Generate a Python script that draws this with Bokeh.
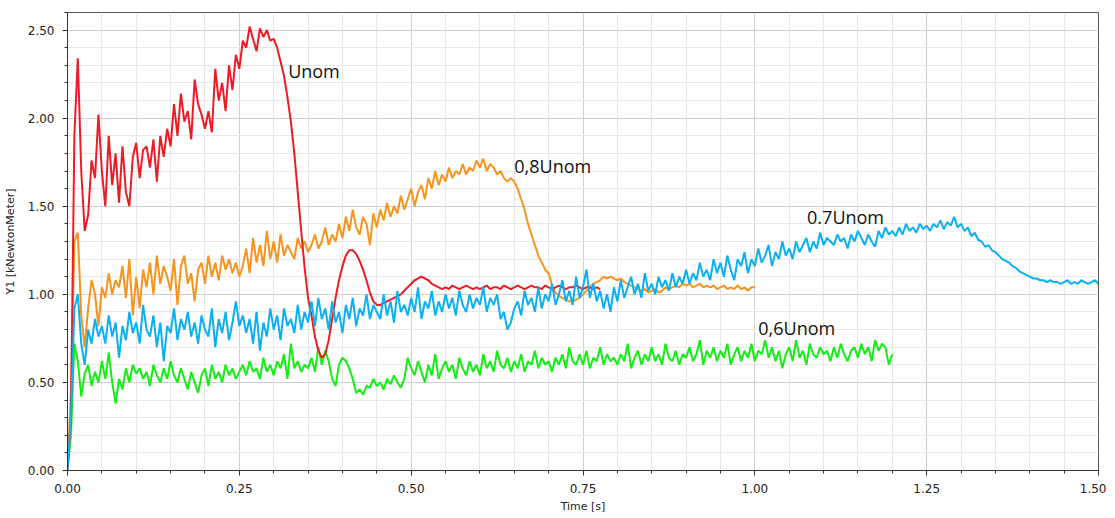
from bokeh.plotting import figure
from bokeh.models import (ColumnDataSource, SingleIntervalTicker, NumeralTickFormatter,
                          Range1d, Label)
from bokeh.embed import file_html
from bokeh.resources import INLINE
import numpy as np

T_STEP = 0.005  # sampling interval of the recorded curves [s]

unom = [
    0.00, 0.30, 1.90, 2.34, 1.70, 1.36, 1.45, 1.76, 1.66, 2.02,
    1.70, 1.50, 1.90, 1.62, 1.80, 1.52, 1.84, 1.58, 1.50, 1.78,
    1.86, 1.66, 1.82, 1.84, 1.72, 1.88, 1.64, 1.90, 1.78, 1.94,
    1.84, 2.08, 1.90, 2.14, 1.98, 2.04, 1.88, 2.22, 2.08, 2.02,
    1.94, 2.04, 1.92, 2.28, 2.10, 2.20, 2.04, 2.30, 2.16, 2.36,
    2.28, 2.44, 2.40, 2.52, 2.45, 2.38, 2.51, 2.46, 2.50, 2.44,
    2.45, 2.40, 2.32, 2.24, 2.12, 1.98, 1.80, 1.58, 1.36, 1.15,
    0.98, 0.88, 0.76, 0.68, 0.64, 0.66, 0.74, 0.86, 0.98, 1.08,
    1.16, 1.22, 1.25, 1.25, 1.23, 1.19, 1.14, 1.08, 1.01, 0.96,
    0.94, 0.94, 0.95, 0.96, 0.97, 0.98, 0.99, 1.00, 1.02, 1.04,
    1.06, 1.08, 1.09, 1.10, 1.09, 1.08, 1.06, 1.05, 1.04, 1.03,
    1.04, 1.03, 1.05, 1.04, 1.03, 1.04, 1.05, 1.04, 1.03, 1.04,
    1.03, 1.04, 1.05, 1.03, 1.04, 1.04, 1.03, 1.05, 1.04, 1.03,
    1.04, 1.05, 1.04, 1.03, 1.04, 1.05, 1.04, 1.04, 1.03, 1.05,
    1.04, 1.03, 1.04, 1.05, 1.04, 1.03, 1.04, 1.04, 1.05, 1.04,
    1.03, 1.04, 1.04, 1.03, 1.04, 1.03,
]

u08 = [
    0.00, 0.45, 1.30, 1.35, 0.88, 0.70, 0.92, 1.08, 1.00, 0.82,
    1.04, 0.98, 1.12, 1.00, 1.08, 1.04, 1.16, 0.98, 1.20, 0.88,
    1.10, 0.92, 1.14, 1.04, 1.18, 1.00, 1.22, 1.06, 1.16, 1.10,
    1.02, 1.20, 0.94, 1.16, 1.22, 1.06, 1.12, 0.96, 1.14, 1.18,
    1.06, 1.22, 1.10, 1.18, 1.08, 1.22, 1.14, 1.20, 1.12, 1.18,
    1.10, 1.16, 1.26, 1.12, 1.32, 1.18, 1.28, 1.16, 1.36, 1.20,
    1.30, 1.18, 1.34, 1.22, 1.28, 1.24, 1.20, 1.32, 1.26, 1.30,
    1.24, 1.28, 1.34, 1.26, 1.30, 1.38, 1.28, 1.34, 1.30, 1.40,
    1.32, 1.44, 1.36, 1.48, 1.38, 1.34, 1.44, 1.40, 1.28, 1.46,
    1.38, 1.48, 1.42, 1.52, 1.44, 1.50, 1.46, 1.56, 1.48, 1.54,
    1.60, 1.50, 1.58, 1.62, 1.54, 1.66, 1.60, 1.70, 1.62, 1.68,
    1.64, 1.72, 1.66, 1.70, 1.68, 1.74, 1.68, 1.72, 1.70, 1.76,
    1.72, 1.77, 1.70, 1.74, 1.72, 1.68, 1.70, 1.66, 1.64, 1.66,
    1.64, 1.60, 1.54, 1.48, 1.40, 1.34, 1.28, 1.22, 1.18, 1.14,
    1.12, 1.05, 1.01, 0.99, 0.98, 0.97, 0.96, 0.96, 0.97, 0.98,
    1.00, 1.02, 1.04, 1.06, 1.07, 1.08, 1.10, 1.09, 1.10, 1.09,
    1.08, 1.09, 1.07, 1.06, 1.05, 1.04, 1.03, 1.02, 1.03, 1.01,
    1.02, 1.03, 1.01, 1.02, 1.04, 1.03, 1.04, 1.05, 1.04, 1.06,
    1.05, 1.06, 1.04, 1.05, 1.06, 1.04, 1.05, 1.04, 1.05, 1.03,
    1.04, 1.05, 1.03, 1.04, 1.03, 1.05, 1.03, 1.04, 1.02, 1.04,
    1.04,
]

u07 = [
    0.00, 0.30, 0.92, 1.00, 0.72, 0.60, 0.80, 0.72, 0.86, 0.76,
    0.82, 0.72, 0.88, 0.76, 0.84, 0.64, 0.82, 0.74, 0.90, 0.78,
    0.84, 0.72, 0.94, 0.80, 0.76, 0.88, 0.70, 0.84, 0.62, 0.82,
    0.78, 0.92, 0.74, 0.86, 0.80, 0.90, 0.76, 0.84, 0.72, 0.88,
    0.80, 0.76, 0.92, 0.70, 0.86, 0.78, 0.90, 0.74, 0.84, 0.96,
    0.82, 0.88, 0.78, 0.86, 0.72, 0.90, 0.68, 0.84, 0.76, 0.92,
    0.80, 0.88, 0.74, 0.92, 0.82, 0.86, 0.78, 0.94, 0.80, 0.90,
    0.84, 0.96, 0.82, 0.98, 0.86, 0.92, 0.80, 0.96, 0.84, 0.90,
    0.78, 0.94, 0.86, 0.98, 0.82, 0.92, 0.88, 1.00, 0.86, 0.94,
    0.90, 0.86, 1.00, 0.88, 0.96, 0.84, 1.02, 0.90, 0.94, 0.88,
    0.98, 0.90, 1.04, 0.86, 0.96, 0.92, 1.02, 0.88, 0.96, 0.90,
    1.00, 0.92, 0.98, 0.88, 1.02, 0.94, 0.90, 1.00, 0.92, 0.98,
    0.94, 1.04, 0.90, 0.98, 0.94, 1.00, 0.86, 0.90, 0.80, 0.84,
    0.92, 0.96, 0.88, 1.02, 0.94, 0.98, 0.90, 1.04, 0.92, 1.00,
    0.96, 1.06, 0.94, 1.00, 1.08, 0.96, 1.02, 0.94, 1.10, 0.98,
    1.04, 1.14, 0.98, 1.06, 0.96, 1.02, 0.92, 1.00, 0.90, 1.04,
    0.96, 1.08, 0.98, 1.04, 1.10, 1.00, 1.06, 0.98, 1.12, 1.02,
    1.06, 1.00, 1.10, 1.04, 1.08, 1.02, 1.12, 1.04, 1.10, 1.06,
    1.14, 1.06, 1.12, 1.08, 1.18, 1.10, 1.14, 1.08, 1.20, 1.12,
    1.18, 1.10, 1.22, 1.14, 1.08, 1.20, 1.16, 1.24, 1.12, 1.20,
    1.16, 1.26, 1.18, 1.22, 1.28, 1.16, 1.24, 1.20, 1.30, 1.22,
    1.26, 1.20, 1.30, 1.24, 1.28, 1.32, 1.24, 1.30, 1.26, 1.35,
    1.28, 1.32, 1.30, 1.28, 1.34, 1.30, 1.32, 1.26, 1.34, 1.30,
    1.36, 1.32, 1.28, 1.34, 1.30, 1.27, 1.36, 1.32, 1.38, 1.34,
    1.36, 1.33, 1.38, 1.34, 1.40, 1.36, 1.38, 1.35, 1.40, 1.37,
    1.39, 1.36, 1.40, 1.38, 1.42, 1.37, 1.41, 1.39, 1.44, 1.38,
    1.40, 1.36, 1.38, 1.33, 1.35, 1.31, 1.30, 1.27, 1.28, 1.25,
    1.24, 1.22, 1.20, 1.19, 1.18, 1.16, 1.15, 1.13, 1.12, 1.11,
    1.10, 1.09, 1.09, 1.08, 1.08, 1.07, 1.08, 1.07, 1.07, 1.06,
    1.07, 1.08, 1.06, 1.07, 1.06, 1.08, 1.07, 1.06, 1.07, 1.08,
    1.06,
]

u06 = [
    0.00, 0.20, 0.72, 0.62, 0.42, 0.55, 0.60, 0.48, 0.56, 0.50,
    0.62, 0.52, 0.67, 0.50, 0.38, 0.52, 0.46, 0.58, 0.50, 0.60,
    0.55, 0.58, 0.52, 0.56, 0.48, 0.60, 0.54, 0.50, 0.58, 0.52,
    0.62, 0.54, 0.50, 0.58, 0.52, 0.46, 0.56, 0.50, 0.44, 0.54,
    0.58, 0.48, 0.60, 0.52, 0.56, 0.50, 0.60, 0.54, 0.58, 0.52,
    0.56, 0.60, 0.54, 0.62, 0.56, 0.58, 0.52, 0.64, 0.56, 0.60,
    0.54, 0.62, 0.58, 0.66, 0.52, 0.72, 0.58, 0.62, 0.56, 0.60,
    0.58, 0.64, 0.56, 0.70, 0.60, 0.68, 0.62, 0.52, 0.48, 0.60,
    0.64, 0.62, 0.58, 0.52, 0.44, 0.46, 0.43, 0.48, 0.47, 0.52,
    0.48, 0.50, 0.46, 0.52, 0.49, 0.54, 0.50, 0.47, 0.52, 0.64,
    0.58, 0.54, 0.62, 0.56, 0.50, 0.60, 0.54, 0.66, 0.52, 0.58,
    0.62, 0.56, 0.60, 0.52, 0.64, 0.58, 0.54, 0.62, 0.56, 0.60,
    0.54, 0.66, 0.58, 0.62, 0.56, 0.68, 0.60, 0.58, 0.64, 0.56,
    0.62, 0.58, 0.66, 0.56, 0.62, 0.60, 0.68, 0.58, 0.64, 0.60,
    0.62, 0.56, 0.64, 0.60, 0.66, 0.58, 0.70, 0.62, 0.60, 0.66,
    0.60, 0.68, 0.58, 0.64, 0.62, 0.70, 0.60, 0.66, 0.62, 0.64,
    0.60, 0.66, 0.62, 0.72, 0.58, 0.64, 0.68, 0.60, 0.66, 0.62,
    0.70, 0.62, 0.66, 0.60, 0.72, 0.64, 0.62, 0.68, 0.60, 0.66,
    0.64, 0.70, 0.62, 0.66, 0.74, 0.60, 0.68, 0.64, 0.70, 0.62,
    0.68, 0.64, 0.72, 0.60, 0.66, 0.70, 0.62, 0.68, 0.64, 0.72,
    0.62, 0.68, 0.66, 0.74, 0.64, 0.70, 0.62, 0.68, 0.58, 0.66,
    0.70, 0.62, 0.74, 0.64, 0.68, 0.60, 0.72, 0.66, 0.64, 0.70,
    0.66, 0.68, 0.62, 0.70, 0.64, 0.72, 0.66, 0.62, 0.68, 0.70,
    0.64, 0.72, 0.66, 0.70, 0.62, 0.74, 0.68, 0.72, 0.70, 0.60,
    0.66,
]

series_names = ["0,6Unom", "0,8Unom", "Unom", "0.7Unom"]
series_values = [u06, u08, unom, u07]
series_colors = ["#14EE14", "#F7941D", "#ED1C24", "#0AB0F2"]

label_texts = ["Unom", "0,8Unom", "0.7Unom", "0,6Unom"]
label_x = [0.321, 0.650, 1.076, 1.005]
label_y = [2.27, 1.73, 1.44, 0.81]

p = figure(width=1106, height=510, output_backend="svg", toolbar_location=None,
           x_range=Range1d(0, 1.5), y_range=Range1d(0, 2.6),
           frame_width=1031, frame_height=458,
           min_border_left=67, min_border_top=12, min_border_right=8, min_border_bottom=10)
p.background_fill_color = "white"
p.border_fill_color = "white"
p.outline_line_color = "#555555"
p.outline_line_width = 1

for name, vals, col in zip(series_names, series_values, series_colors):
    t = np.arange(len(vals)) * T_STEP
    src = ColumnDataSource(dict(t=t, v=vals))
    p.line("t", "v", source=src, line_color=col, line_width=2)

for txt, x, y in zip(label_texts, label_x, label_y):
    p.add_layout(Label(x=x, y=y, text=txt, text_font="Open Sans", text_font_size="18px",
                       text_color="#111111", text_baseline="middle", text_align="left"))

xt = SingleIntervalTicker(interval=0.25, num_minor_ticks=5)
yt = SingleIntervalTicker(interval=0.5, num_minor_ticks=5)
p.xaxis.ticker = xt
p.yaxis.ticker = yt
p.xgrid.ticker = xt
p.ygrid.ticker = yt
for ax in (p.xaxis, p.yaxis):
    ax.formatter = NumeralTickFormatter(format="0.00")
    ax.axis_line_color = "#333333"
    ax.major_tick_line_color = "#333333"
    ax.minor_tick_line_color = "#333333"
    ax.major_tick_in = 0
    ax.major_tick_out = 5
    ax.minor_tick_in = 0
    ax.minor_tick_out = 3
    ax.major_label_text_font = "DejaVu Sans"
    ax.major_label_text_font_size = "12px"
    ax.major_label_text_color = "#222222"
    ax.axis_label_text_font = "DejaVu Sans"
    ax.axis_label_text_font_size = "11px"
    ax.axis_label_text_font_style = "normal"
    ax.axis_label_text_color = "#222222"
p.xaxis.axis_label = "Time [s]"
p.yaxis.axis_label = "Y1 [kNewtonMeter]"
p.yaxis.major_label_standoff = 8
p.xaxis.major_label_standoff = 8
p.yaxis.axis_label_standoff = 8
p.xaxis.axis_label_standoff = 4

for g in (p.xgrid, p.ygrid):
    g.grid_line_color = "#cfcfcf"
    g.grid_line_width = 1
    g.minor_grid_line_color = "#e8e8e8"
    g.minor_grid_line_width = 1

open("out.html", "w").write(file_html(p, INLINE))
